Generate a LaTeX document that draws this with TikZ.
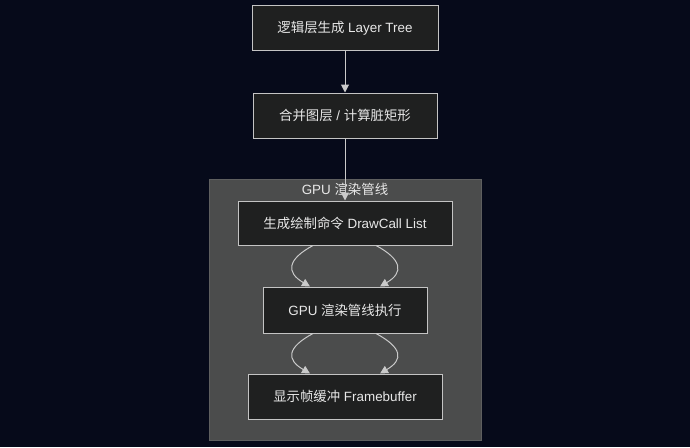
\documentclass[tikz,border=0pt]{standalone}
\usepackage{fontspec}
\setmainfont{Liberation Sans}
\newfontfamily\cjk{Noto Sans CJK SC}
\usetikzlibrary{arrows.meta}
\definecolor{bg}{HTML}{060A1A}
\definecolor{clfill}{HTML}{4B4C4C}
\definecolor{clborder}{HTML}{5E5F5F}
\definecolor{nodefill}{HTML}{1F2020}
\definecolor{nodeborder}{HTML}{C4C4C4}
\definecolor{edgec}{HTML}{CACACA}
\definecolor{textc}{HTML}{E8E8E8}
\tikzset{
  stepbox/.style={draw=nodeborder, fill=nodefill, text=textc, line width=1pt,
    font=\fontsize{13.4}{15}\selectfont, inner sep=0pt, minimum height=45pt},
  clusterbox/.style={draw=clborder, fill=clfill, line width=1pt, inner sep=0pt},
  flow/.style={draw=edgec, line width=1pt, -{Triangle[length=8pt,width=8pt]}},
  cltitle/.style={text=textc, font=\fontsize{13.4}{15}\selectfont, inner sep=0pt}
}
\begin{document}
\begin{tikzpicture}[x=1pt,y=-1pt]
\fill[bg] (0,0) rectangle (690,447);
\useasboundingbox (0,0) rectangle (690,447);
\node[clusterbox, minimum width=272pt, minimum height=261pt] (cl) at (345,309.5) {};
\node[cltitle] (title) at (345,189) {GPU {\cjk 渲染管线}};
\node[stepbox, minimum width=186pt] (n1) at (345,28) {{\cjk 逻辑层生成} Layer Tree};
\node[stepbox, minimum width=184pt] (n2) at (345,115.5) {{\cjk 合并图层} / {\cjk 计算脏矩形}};
\node[stepbox, minimum width=214pt, minimum height=44pt] (n3) at (345,223) {{\cjk 生成绘制命令} DrawCall List};
\node[stepbox, minimum width=164pt, minimum height=46pt] (n4) at (345,310) {GPU {\cjk 渲染管线执行}};
\node[stepbox, minimum width=194pt] (n5) at (345,396.5) {{\cjk 显示帧缓冲} Framebuffer};
\draw[flow] (n1) -- (n2);
\draw[flow] (n2) -- (n3);
\draw[flow] ([xshift=-32pt]n3.south) .. controls +(-26,14) and +(-24,-14) .. ([xshift=-35pt]n4.north);
\draw[flow] ([xshift=31pt]n3.south) .. controls +(26,14) and +(24,-14) .. ([xshift=35pt]n4.north);
\draw[flow] ([xshift=-32pt]n4.south) .. controls +(-26,14) and +(-24,-14) .. ([xshift=-35pt]n5.north);
\draw[flow] ([xshift=31pt]n4.south) .. controls +(26,14) and +(24,-14) .. ([xshift=35pt]n5.north);
\end{tikzpicture}
\end{document}
